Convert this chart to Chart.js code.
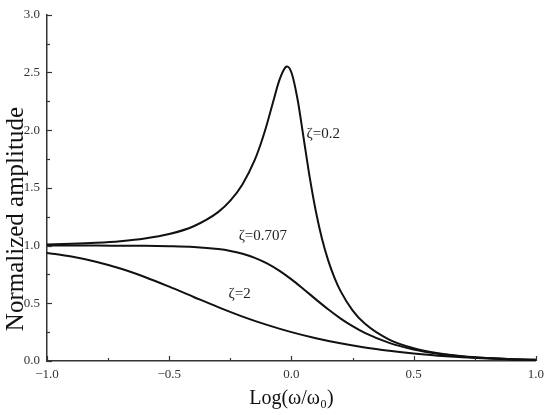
<!DOCTYPE html>
<html>
<head>
<meta charset="utf-8">
<script src="https://cdn.jsdelivr.net/npm/chart.js@4/dist/chart.umd.min.js"></script>
<style>
  html, body { margin: 0; padding: 0; background: #fff; }
  #wrap { width: 550px; height: 415px; position: relative; }
</style>
</head>
<body>
<div id="wrap"><canvas id="ampChart"></canvas></div>
<script>
// Datos: Log(w/w0) y amplitud normalizada
const xZeta02 = [-1, -0.9, -0.8, -0.7, -0.6, -0.5, -0.4, -0.3, -0.25, -0.2, -0.15, -0.125, -0.1, -0.075, -0.05, -0.025, -0.018, 0, 0.025, 0.05, 0.075, 0.1, 0.125, 0.15, 0.175, 0.2, 0.25, 0.3, 0.4, 0.5, 0.6, 0.7, 0.8, 0.9, 1.0];
const yZeta02 = [1.009, 1.015, 1.024, 1.038, 1.061, 1.100, 1.168, 1.290, 1.389, 1.532, 1.743, 1.885, 2.054, 2.244, 2.430, 2.545, 2.552, 2.500, 2.268, 1.930, 1.589, 1.296, 1.060, 0.874, 0.727, 0.610, 0.439, 0.324, 0.185, 0.110, 0.067, 0.041, 0.026, 0.016, 0.010];

const xZeta0707 = [-1, -0.9, -0.8, -0.7, -0.6, -0.5, -0.4, -0.3, -0.25, -0.2, -0.15, -0.1, -0.05, 0, 0.05, 0.1, 0.15, 0.2, 0.25, 0.3, 0.4, 0.5, 0.6, 0.7, 0.8, 0.9, 1.0];
const yZeta0707 = [1.000, 1.000, 1.000, 0.999, 0.998, 0.995, 0.988, 0.970, 0.954, 0.929, 0.894, 0.846, 0.783, 0.707, 0.622, 0.534, 0.448, 0.370, 0.302, 0.244, 0.157, 0.100, 0.063, 0.040, 0.025, 0.016, 0.010];

const xZeta2 = [-1, -0.9, -0.8, -0.7, -0.6, -0.5, -0.4, -0.3, -0.2, -0.1, 0, 0.1, 0.2, 0.3, 0.4, 0.5, 0.6, 0.7, 0.8, 0.9, 1.0];
const yZeta2 = [0.937, 0.905, 0.860, 0.801, 0.728, 0.644, 0.555, 0.467, 0.385, 0.313, 0.250, 0.197, 0.153, 0.117, 0.088, 0.064, 0.046, 0.032, 0.022, 0.014, 0.009];

// Etiquetas de las curvas (posición en coordenadas de datos)
const curveLabels = ['ζ=0.2', 'ζ=0.707', 'ζ=2'];
const curveLabelX = [0.062, -0.216, -0.257];
const curveLabelY = [1.97, 1.08, 0.58];

const yAxisTitle = 'Normalized amplitude';

const serif = "'Liberation Serif', 'DejaVu Serif', serif";

function toPoints(xs, ys) {
  return xs.map((x, i) => ({ x: x, y: ys[i] }));
}

function fmtTick(v) {
  const s = Math.abs(v).toFixed(1);
  return v < 0 ? '\u2212' + s : s;
}

// Marcas hacia dentro (mayores y menores), título del eje Y y etiquetas de las curvas
const tickAndLabelPlugin = {
  id: 'tickAndLabel',
  afterDraw(chart) {
    const ctx = chart.ctx;
    const xs = chart.scales.x;
    const ys = chart.scales.y;
    const area = chart.chartArea;
    ctx.save();
    ctx.strokeStyle = '#333';
    ctx.lineWidth = 1.2;
    for (let v = -1; v <= 1.0001; v += 0.25) {
      const px = Math.round(xs.getPixelForValue(v)) + 0.5;
      const major = Math.abs(v * 2 - Math.round(v * 2)) < 1e-6;
      const len = major ? 5 : 3;
      ctx.beginPath();
      ctx.moveTo(px, area.bottom);
      ctx.lineTo(px, area.bottom - len);
      ctx.stroke();
    }
    for (let v = 0; v <= 3.0001; v += 0.25) {
      const py = Math.round(ys.getPixelForValue(v)) + 0.5;
      const major = Math.abs(v * 2 - Math.round(v * 2)) < 1e-6;
      const len = major ? 5 : 3;
      ctx.beginPath();
      ctx.moveTo(area.left, py);
      ctx.lineTo(area.left + len, py);
      ctx.stroke();
    }

    // Título del eje Y (algo más abajo que el centro, como en la figura)
    ctx.save();
    ctx.translate(16, ys.getPixelForValue(1.23));
    ctx.rotate(-Math.PI / 2);
    ctx.fillStyle = '#111';
    ctx.font = '25px ' + serif;
    ctx.textAlign = 'center';
    ctx.textBaseline = 'middle';
    ctx.fillText(yAxisTitle, 0, 0);
    ctx.restore();

    ctx.fillStyle = '#222';
    ctx.font = '15px ' + serif;
    ctx.textAlign = 'left';
    ctx.textBaseline = 'middle';
    curveLabels.forEach((t, i) => {
      ctx.fillText(t, xs.getPixelForValue(curveLabelX[i]), ys.getPixelForValue(curveLabelY[i]));
    });
    ctx.restore();
  }
};

const lineStyle = {
  borderColor: '#111',
  borderWidth: 2,
  pointRadius: 0,
  fill: false,
  cubicInterpolationMode: 'monotone'
};

new Chart(document.getElementById('ampChart'), {
  type: 'line',
  data: {
    datasets: [
      Object.assign({ label: 'ζ=0.2', data: toPoints(xZeta02, yZeta02) }, lineStyle),
      Object.assign({ label: 'ζ=0.707', data: toPoints(xZeta0707, yZeta0707) }, lineStyle),
      Object.assign({ label: 'ζ=2', data: toPoints(xZeta2, yZeta2) }, lineStyle)
    ]
  },
  options: {
    responsive: true,
    maintainAspectRatio: false,
    animation: false,
    layout: { padding: { top: 6, right: 12, left: 0, bottom: 0 } },
    plugins: {
      legend: { display: false },
      tooltip: { enabled: false }
    },
    scales: {
      x: {
        type: 'linear',
        min: -1,
        max: 1,
        grid: { display: false, drawTicks: false },
        border: { display: true, color: '#333', width: 1.5 },
        ticks: {
          stepSize: 0.5,
          padding: 6,
          color: '#333',
          font: { family: serif, size: 13 },
          callback: fmtTick
        },
        title: {
          display: true,
          text: 'Log(ω/ω₀)',
          color: '#111',
          font: { family: serif, size: 20 },
          padding: { top: 0, bottom: 4 }
        },
        afterFit(scale) { scale.height = 54; }
      },
      y: {
        min: 0,
        max: 3,
        grid: { display: false, drawTicks: false },
        border: { display: true, color: '#333', width: 1.5 },
        ticks: {
          stepSize: 0.5,
          padding: 7,
          color: '#333',
          font: { family: serif, size: 13 },
          callback: fmtTick
        },
        title: { display: false },
        afterFit(scale) { scale.width = 47; }
      }
    }
  },
  plugins: [tickAndLabelPlugin]
});
</script>
</body>
</html>
